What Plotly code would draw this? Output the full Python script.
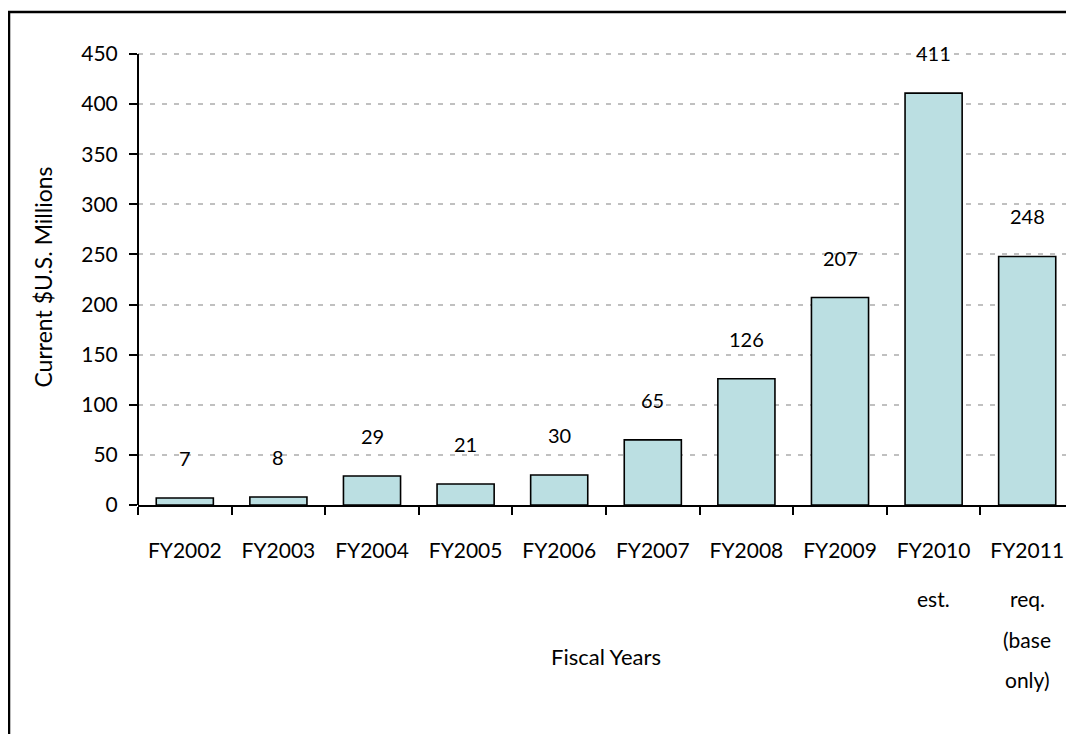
import plotly.graph_objects as go

categories = ["FY2002", "FY2003", "FY2004", "FY2005", "FY2006", "FY2007",
              "FY2008", "FY2009", "FY2010", "FY2011"]
label_lines = [["FY2002"], ["FY2003"], ["FY2004"], ["FY2005"], ["FY2006"],
               ["FY2007"], ["FY2008"], ["FY2009"], ["FY2010", "est."],
               ["FY2011", "req.", "(base", "only)"]]
values = [7, 8, 29, 21, 30, 65, 126, 207, 411, 248]
y_ticks = [0, 50, 100, 150, 200, 250, 300, 350, 400, 450]

FONT = "Lato, 'Open Sans', sans-serif"

fig = go.Figure()
fig.add_trace(go.Bar(
    x=categories, y=values,
    marker=dict(color="#BBDFE2", line=dict(color="#000000", width=1.6)),
    width=0.61,
    hoverinfo="skip",
))

# value labels above bars
for c, v in zip(categories, values):
    fig.add_annotation(x=c, y=v, text=str(v), showarrow=False,
                       yanchor="middle", yshift=40,
                       font=dict(size=20, color="#000", family=FONT))

# continuation lines of the category labels
line_shifts = [0, -93, -134, -174]
for c, lines in zip(categories, label_lines):
    for k, t in enumerate(lines[1:], start=1):
        fig.add_annotation(x=c, y=0, text=t, showarrow=False,
                           yanchor="middle", yshift=line_shifts[k],
                           font=dict(size=21, color="#000", family=FONT))

# outer frame
fig.add_shape(type="rect", xref="paper", yref="paper",
              x0=-0.1378, x1=1.05, y0=-0.7, y1=1.081,
              line=dict(color="#000", width=2.5), fillcolor="rgba(0,0,0,0)",
              layer="below")

fig.update_layout(
    width=1066, height=726,
    margin=dict(l=130, r=0, t=41, b=229),
    paper_bgcolor="white", plot_bgcolor="white",
    showlegend=False,
    font=dict(family=FONT, size=20, color="#000"),
    xaxis=dict(
        tickmode="array", tickvals=categories,
        ticktext=[l[0] for l in label_lines],
        tickangle=0,
        range=[-0.5, 9.5],
        showline=True, linecolor="#000", linewidth=2,
        ticks="outside", tickson="boundaries", ticklen=8, tickcolor="#000", tickwidth=1.5,
        ticklabelstandoff=26,
        showgrid=False,
        tickfont=dict(size=21),
        title=dict(text="Fiscal Years", font=dict(size=22), standoff=88),
    ),
    yaxis=dict(
        range=[0, 455], tickvals=y_ticks,
        showline=False,
        ticks="outside", ticklen=8, tickcolor="#000", tickwidth=1.5,
        ticklabelstandoff=7,
        showgrid=True, gridcolor="#C0C0C0", griddash="5px,7px", gridwidth=2,
        zeroline=False,
        tickfont=dict(size=21),
        title=dict(text="Current $U.S. Millions", font=dict(size=23), standoff=22),
    ),
)

# y-axis line running from 0 up to the 450 tick only
fig.add_shape(type="line", xref="paper", yref="y", x0=0, x1=0, y0=0, y1=450,
              line=dict(color="#000", width=2))

fig.write_html("out.html")
